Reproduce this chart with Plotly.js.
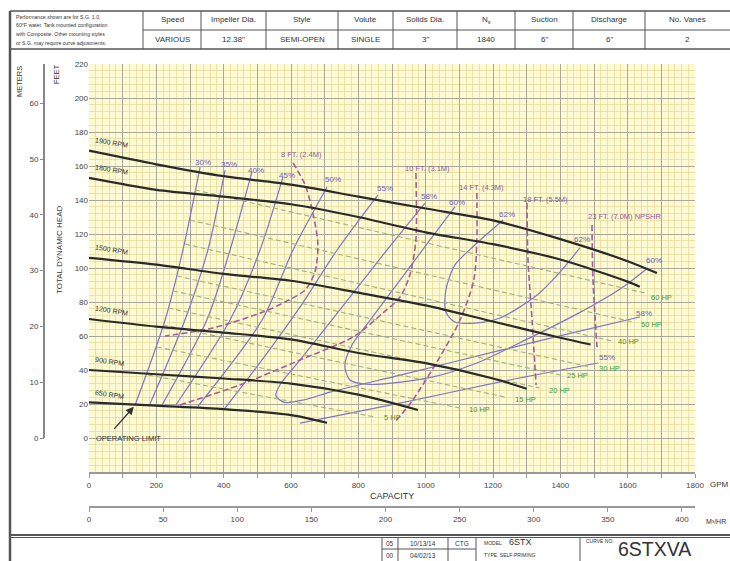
<!DOCTYPE html>
<html><head><meta charset="utf-8">
<script src="https://cdn.plot.ly/plotly-3.0.1.min.js"></script>
<style>html,body{margin:0;padding:0;background:#fff;}#chart{width:730px;height:561px;}</style>
</head><body><div id="chart"></div>
<script>
// ---------- DATA (GPM, feet) ----------
const speedNames = ['1900 RPM','1800 RPM','1500 RPM','1200 RPM','900 RPM','650 RPM'];
const q1900 = [0,200,400,600,800,1000,1200,1400,1600,1687];
const h1900 = [169,161,154,149,142,135,128,117,104,97];
const q1800 = [0,200,400,600,800,1000,1200,1400,1600,1636];
const h1800 = [153,146,142,137.5,130,121,114,105,92,89];
const q1500 = [0,200,400,600,800,1000,1200,1400,1490];
const h1500 = [106,102,96.5,92.5,85.5,78,68.5,59,55];
const q1200 = [0,200,400,600,800,1000,1200,1300];
const h1200 = [70,65.5,62,58,50,44,35,29];
const q900 = [0,200,400,600,800,977];
const h900 = [40,37.5,35,32,25.5,16.5];
const q650 = [0,200,400,600,707];
const h650 = [21,19,17,13.5,9];

// efficiency contours
const e30q = [137,226,279,330], e30h = [19.4,69.4,110.6,159.4];
const e35q = [181,285,353,404], e35h = [20,69.4,110.6,157.6];
const e40q = [217,350,419,484], e40h = [19.4,69.4,110.6,156.5];
const e45q = [258,419,508,576], e45h = [19.4,69.4,110.6,153.5];
const e50q = [324,514,606,707], e50h = [18.8,69.4,110.6,147.6];
const e55q = [404,514,627,737,858], e55h = [17.6,45.9,77.1,110.6,142.9];
const e55rq = [627,924,1221,1512], e55rh = [8.8,20.5,33,44.1];
const e58q = [998,885,745,627,567,555,580,640,716,924,1221,1429,1636];
const e58h = [138.2,110.6,75.3,45.9,31.2,25,21,22.5,27,37,51.5,61.5,71.2];
const e60q = [1087,1013,924,835,781,760,775,835,1022,1150,1300,1450,1580,1660];
const e60h = [135.9,116.5,92.9,69.4,54.7,42.9,34.1,31.5,36,44,58,73,88,100];
const e62q = [1230,1146,1087,1060,1060,1087,1146,1221,1331,1399,1458];
const e62h = [128.2,113.5,101.8,87.1,74.1,68.2,67.6,70.6,84.1,97.6,111.8];
const effLabels = ['30%','35%','40%','45%','50%','55%','58%','60%','62%','62%','60%','58%','55%'];
const effLabelQ = [339,416,496,588,725,879,1010,1093,1242,1464,1678,1648,1538];
const effLabelH = [161.8,160.6,157.6,154.7,151.8,147,142.3,138.8,131.2,116.5,104.7,73.5,47.6];

// NPSHR curves
const n8q = [606,642,665,680,671,642,582,517,368,226];
const n8h = [161.8,148.8,132.4,113.5,97.6,87.1,80,74.1,64.7,60];
const n10q = [971,971,953,924,873,784,627,448,270];
const n10h = [155.9,116.5,95.9,82.9,73.5,59.4,45.9,31.2,19.4];
const n14q = [1152,1152,1143,1102,1042,962,909];
const n14h = [144.1,116.5,92.9,69.4,47.6,22.4,9.4];
const n18q = [1301,1304,1316,1328], n18h = [138.2,104.7,69.4,31.2];
const n23q = [1494,1497,1509], n23h = [125.3,92.9,53.5];
const npshLabels = ['8 FT. (2.4M)','10 FT. (3.1M)','14 FT. (4.3M)','18 FT. (5.5M)','23 FT. (7.0M) NPSHR'];
const npshLabelQ = [630,1004,1167,1357,1592];
const npshLabelH = [166.5,158.8,147.6,140,130];

// horsepower lines
const hpNames = ['60 HP','50 HP','40 HP','30 HP','25 HP','20 HP','15 HP','10 HP','5 HP'];
const hpStartQ = [315,300,285,261,250,235,220,202,175];
const hpStartH = [145.9,128.2,114.1,95.3,86.5,76.5,66.5,53.5,37.1];
const hpEndQ = [1651,1616,1553,1488,1399,1339,1236,1102,849];
const hpEndH = [85.3,68.2,57.1,41.8,37.1,29.4,24.1,17.6,12.4];
const hpLabelQ = [1663,1634,1566,1509,1414,1360,1259,1123,870];
const hpLabelH = [82.9,66.5,56.5,40.6,36.5,28.2,22.9,16.5,11.8];

// axes ticks
const gpmTicks = [0,100,200,300,400,500,600,700,800,900,1000,1100,1200,1300,1400,1500,1600,1700,1800];
const ftTicks = [-20,0,20,40,60,80,100,120,140,160,180,200,220];
const mTicks = [0,10,20,30,40,50,60];
const m3Ticks = [0,50,100,150,200,250,300,350,400];
const GPM_PER_M3H = 4.4029, M_PER_FT = 0.3048;

// header table contents
const heads = ['Speed','Impeller Dia.','Style','Volute','Solids Dia.','N<sub>s</sub>','Suction','Discharge','No. Vanes'];
const vals = ['VARIOUS','12.38"','SEMI-OPEN','SINGLE','3"','1840','6"','6"','2'];

// ---------- helpers ----------
const W = 730, H = 561;
const X = px => px / W, Y = py => 1 - py / H;
const FONT = 'Liberation Sans, Arial, sans-serif';
const traces = [];
function line(q, h, color, width, dash) {
  traces.push({x: q, y: h, mode: 'lines', type: 'scatter', hoverinfo: 'skip',
    line: {color: color, width: width, dash: dash || 'solid', shape: 'spline', smoothing: 0.8}});
}
const EFF = '#7f76c2', NPSH = '#a35f98', HP = '#a3b27c', HEAD = '#2a2a2a';
[[e30q,e30h],[e35q,e35h],[e40q,e40h],[e45q,e45h],[e50q,e50h],[e55q,e55h],[e55rq,e55rh],[e58q,e58h],[e60q,e60h],[e62q,e62h]]
  .forEach(p => line(p[0], p[1], EFF, 1.2));
hpNames.forEach((n, i) => line([hpStartQ[i], hpEndQ[i]], [hpStartH[i], hpEndH[i]], HP, 1.1, '5px,3px'));
[[n8q,n8h],[n10q,n10h],[n14q,n14h],[n18q,n18h],[n23q,n23h]].forEach(p => line(p[0], p[1], NPSH, 1.6, '6px,3px'));
[[q1900,h1900],[q1800,h1800],[q1500,h1500],[q1200,h1200],[q900,h900],[q650,h650]].forEach(p => line(p[0], p[1], HEAD, 2.2));
traces.push({x: [0], y: [0], xaxis: 'x2', yaxis: 'y2', mode: 'markers', marker: {opacity: 0}, hoverinfo: 'skip'});

const ann = [];
function txt(px, py, s, size, opt) {
  ann.push(Object.assign({xref: 'paper', yref: 'paper', x: X(px), y: Y(py), text: s, showarrow: false,
    xanchor: 'center', yanchor: 'middle', font: {size: size, color: '#333', family: FONT}}, opt || {}));
}
function dtxt(q, h, s, size, color, opt) {
  ann.push(Object.assign({xref: 'x', yref: 'y', x: q, y: h, text: s, showarrow: false,
    xanchor: 'center', yanchor: 'middle', font: {size: size, color: color, family: FONT}}, opt || {}));
}
effLabels.forEach((s, i) => dtxt(effLabelQ[i], effLabelH[i], s, 8, '#6a5fb8'));
npshLabels.forEach((s, i) => dtxt(npshLabelQ[i], npshLabelH[i], s, 7.5, '#8f5a97'));
hpNames.forEach((s, i) => dtxt(hpLabelQ[i], hpLabelH[i], s, 7.5, '#3f9a35', {xanchor: 'left'}));
const speedH = [h1900[0], h1800[0], h1500[0], h1200[0], h900[0], h650[0]];
speedNames.forEach((s, i) => dtxt(10, speedH[i], s, 7, '#333', {xanchor: 'left', yanchor: 'bottom', textangle: 9}));
ann.push({xref: 'x', yref: 'y', x: e30q[0] - 4, y: e30h[0] - 1, ax: -22, ay: 25, text: ' ', showarrow: true,
  arrowhead: 2, arrowsize: 1.2, arrowwidth: 1.3, arrowcolor: '#333', font: {size: 6}});
txt(94, 438, 'OPERATING LIMIT', 7.5, {xanchor: 'left'});

txt(19, 82, 'METERS', 7.5, {textangle: -90});
txt(57, 74, 'FEET', 7.5, {textangle: -90});
txt(60, 250, 'TOTAL DYNAMIC HEAD', 8, {textangle: -90});
txt(392, 496, 'CAPACITY', 9);
txt(708, 484, 'GPM', 8, {xanchor: 'left'});
txt(704, 521, 'M³/HR', 7, {xanchor: 'left'});

const shapes = [];
function seg(x0, y0, x1, y1, w, c) {
  shapes.push({type: 'line', xref: 'paper', yref: 'paper', x0: X(x0), y0: Y(y0), x1: X(x1), y1: Y(y1),
    line: {color: c || '#555', width: w || 1}});
}
seg(10, 11, 730, 11, 1.5); seg(143, 30, 730, 30, 1); seg(10, 49, 730, 49, 1.5);
seg(10, 11, 10, 561, 2.5);
const colX = [143, 201, 266, 338, 393, 457, 515, 573, 645];
colX.forEach(x => seg(x, 11, x, 49, 1));
const colEnd = colX.slice(1).concat([729]);
heads.forEach((s, i) => { const c = (colX[i] + colEnd[i]) / 2; txt(c, 20, s, 8); txt(c, 40, vals[i], 8); });
const note = ['Performance shown are for S.G. 1.0,', '60°F water. Tank mounted configuration', 'with Composite. Other mounting styles', 'or S.G. may require curve adjustments.'];
note.forEach((s, i) => txt(14, 17 + i * 8.5, s, 5.2, {xanchor: 'left'}));

seg(10, 535, 730, 535, 2); seg(10, 537.5, 730, 537.5, 1);
[382, 398, 448, 476, 580].forEach(x => seg(x, 537, x, 561, 1));
seg(382, 549, 476, 549, 1);
txt(390, 543, '05', 6.5); txt(423, 543, '10/13/14', 6.5); txt(462, 543, 'CTG', 6.5);
txt(390, 555, '00', 6.5); txt(423, 555, '04/02/13', 6.5);
txt(482, 543, 'MODEL', 5, {xanchor: 'left'}); txt(507, 542, '6STX', 9, {xanchor: 'left'});
txt(482, 555, 'TYPE  SELF-PRIMING', 5, {xanchor: 'left'});
txt(584, 541, 'CURVE NO.', 5, {xanchor: 'left'});
txt(654, 549, '6STXVA', 19.5, {font: {size: 19.5, color: '#333', family: FONT}});
shapes.push({type: 'line', xref: 'paper', yref: 'y', x0: X(44), x1: X(44), y0: 0, y1: 220, line: {color: '#888', width: 2}});

const tickFont = {size: 8, color: '#444', family: FONT};
const layout = {
  width: W, height: H, margin: {l: 0, r: 0, t: 0, b: 0}, showlegend: false,
  paper_bgcolor: '#ffffff', plot_bgcolor: '#fcf9d3',
  xaxis: {domain: [X(89), X(695)], range: [0, 1800], tickmode: 'array', tickvals: gpmTicks,
    ticktext: gpmTicks.map(v => v % 200 === 0 ? String(v) : ''), tickfont: tickFont,
    showgrid: true, gridcolor: '#a9a79a', gridwidth: 1, zeroline: false,
    showline: true, linecolor: '#999', linewidth: 2, ticks: 'outside', ticklen: 4, tickcolor: '#999',
    minor: {dtick: 20, tick0: 0, showgrid: true, gridcolor: '#e6dc9e', gridwidth: 0.8, ticks: ''}},
  yaxis: {domain: [Y(472), Y(64)], range: [-20, 220], tickmode: 'array', tickvals: ftTicks,
    ticktext: ftTicks.map(v => v < 0 ? '' : String(v)), tickfont: tickFont,
    showgrid: true, gridcolor: '#a9a79a', gridwidth: 1, zeroline: false, showline: false, ticks: '',
    minor: {dtick: 4, tick0: 0, showgrid: true, gridcolor: '#e6dc9e', gridwidth: 0.8, ticks: ''}},
  yaxis2: {overlaying: 'y', anchor: 'free', position: X(44), side: 'left',
    range: [-20 * M_PER_FT, 220 * M_PER_FT], tickmode: 'array', tickvals: mTicks, tickfont: tickFont,
    showgrid: false, zeroline: false, showline: false, ticks: 'outside', ticklen: 4, tickcolor: '#888'},
  xaxis2: {overlaying: 'x', anchor: 'free', position: Y(507), side: 'bottom',
    range: [0, 1800 / GPM_PER_M3H], tickmode: 'array', tickvals: m3Ticks, tickfont: tickFont,
    showgrid: false, zeroline: false, showline: true, linecolor: '#999', linewidth: 2,
    ticks: 'outside', ticklen: 4, tickcolor: '#999'},
  annotations: ann, shapes: shapes
};
Plotly.newPlot('chart', traces, layout, {staticPlot: true, displayModeBar: false});
</script></body></html>
